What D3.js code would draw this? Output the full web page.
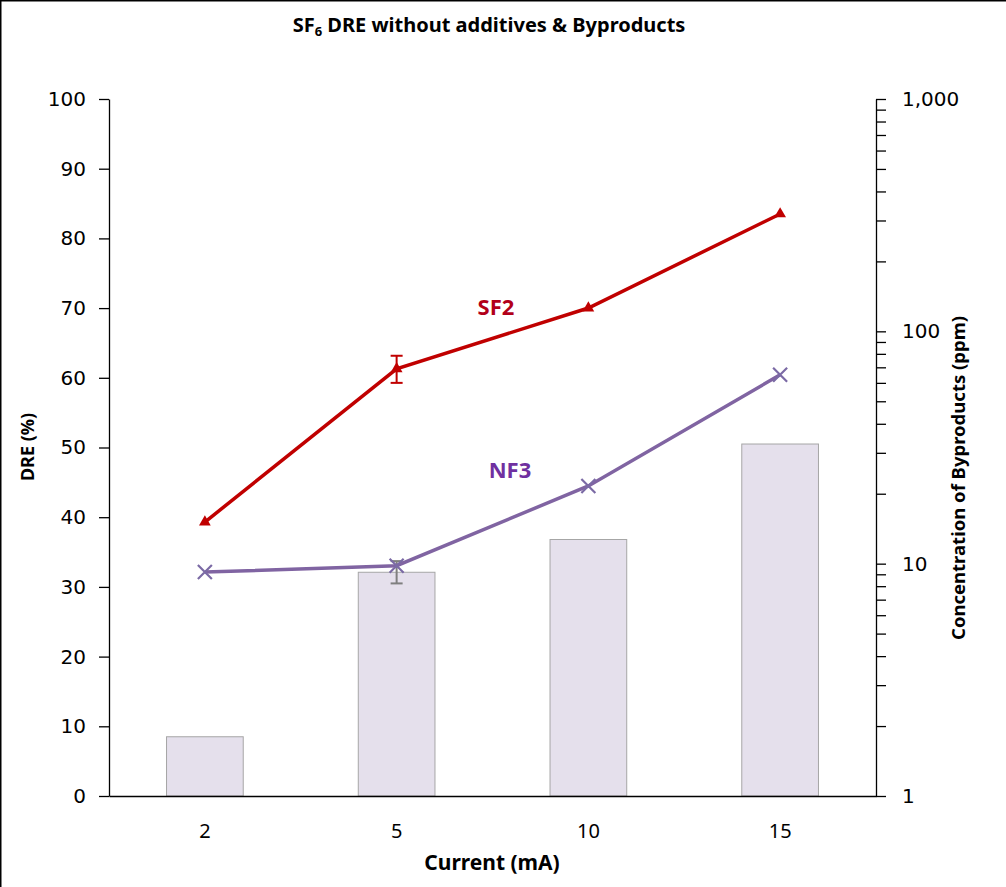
<!DOCTYPE html>
<html>
<head>
<meta charset="utf-8">
<script src="https://cdn.jsdelivr.net/npm/d3@7"></script>
<style>
  body { margin: 0; background: #fff; }
  svg { display: block; }
</style>
</head>
<body>
<div id="chart"></div>
<script>
var categories = ["2", "5", "10", "15"];
var dreValues = [8.5, 32.1, 36.8, 50.5];      // bars, left axis (%)
var dreErrors = [0, 1.6, 0, 0];
var sf2Values = [15.1, 69, 126, 320];         // ppm, right log axis
var sf2Errors = [[0, 0], [60, 78.5], [0, 0], [0, 0]];
var nf3Values = [9.2, 9.8, 21.6, 65];
var leftTicks = [0, 10, 20, 30, 40, 50, 60, 70, 80, 90, 100];
var rightTicks = [1, 10, 100, 1000];

var W = 1006, H = 887;
var margin = { left: 109, right: 130, top: 99, bottom: 91 };

var svg = d3.select("#chart").append("svg")
    .attr("width", W)
    .attr("height", H);

// frame (only top and left edges are visible in the picture)
svg.append("rect")
    .attr("x", 0.75).attr("y", 0.75)
    .attr("width", W + 10).attr("height", H + 10)
    .attr("fill", "none")
    .attr("stroke", "#000")
    .attr("stroke-width", 1.5);

var x = d3.scaleBand()
    .domain(categories)
    .range([margin.left, W - margin.right])
    .paddingInner(0.6)
    .paddingOuter(0.3);

var yL = d3.scaleLinear()
    .domain([0, 100])
    .range([H - margin.bottom, margin.top]);

var yR = d3.scaleLog()
    .domain([1, 1000])
    .range([H - margin.bottom, margin.top]);

var xMid = function (c) { return x(c) + x.bandwidth() / 2; };

// bars
svg.selectAll("rect.bar")
    .data(dreValues)
    .enter().append("rect")
    .attr("class", "bar")
    .attr("x", function (d, i) { return x(categories[i]); })
    .attr("y", function (d) { return yL(d); })
    .attr("width", x.bandwidth())
    .attr("height", function (d) { return yL(0) - yL(d); })
    .attr("fill", "#e5e0ec")
    .attr("stroke", "#a6a6a6")
    .attr("stroke-width", 1);

// bar error bars
dreErrors.forEach(function (e, i) {
    if (!e) return;
    var cx = xMid(categories[i]);
    var g = svg.append("g").attr("stroke", "#7f7f7f").attr("stroke-width", 2);
    g.append("line").attr("x1", cx).attr("x2", cx)
        .attr("y1", yL(dreValues[i] + e)).attr("y2", yL(dreValues[i] - e));
    [dreValues[i] + e, dreValues[i] - e].forEach(function (v) {
        g.append("line").attr("x1", cx - 6).attr("x2", cx + 6)
            .attr("y1", yL(v)).attr("y2", yL(v));
    });
});

// axes
var leftAxis = svg.append("g")
    .attr("transform", "translate(" + margin.left + ",0)")
    .call(d3.axisLeft(yL).tickValues(leftTicks).tickSize(10).tickSizeOuter(0).tickPadding(13));

var minorTicks = [];
[1, 10, 100].forEach(function (d) {
    for (var k = 2; k <= 9; k++) minorTicks.push(d * k);
});
var rightX = W - margin.right;
svg.append("g")
    .attr("transform", "translate(" + rightX + ",0)")
    .call(d3.axisRight(yR).tickValues(minorTicks).tickSize(10).tickFormat(""))
    .call(function (g) { g.select(".domain").remove(); });
var rightAxis = svg.append("g")
    .attr("transform", "translate(" + rightX + ",0)")
    .call(d3.axisRight(yR).tickValues(rightTicks).tickSize(10).tickSizeOuter(0).tickPadding(16)
        .tickFormat(d3.format(",")));

var bottomAxis = svg.append("g")
    .attr("transform", "translate(0," + yL(0) + ")")
    .call(d3.axisBottom(x).tickSize(0).tickPadding(28));

[leftAxis, rightAxis].forEach(function (g) {
    g.selectAll("text")
        .attr("font-family", "'DejaVu Sans', sans-serif")
        .attr("font-size", 20)
        .attr("fill", "#000");
});
bottomAxis.selectAll("text")
    .attr("font-family", "'Noto Sans', sans-serif")
    .attr("font-size", 20)
    .attr("fill", "#000");
svg.selectAll(".domain, .tick line").attr("stroke", "#000").attr("stroke-width", 1.3);

// lines
var line = d3.line()
    .x(function (d, i) { return xMid(categories[i]); })
    .y(function (d) { return yR(d); });

svg.append("path")
    .datum(nf3Values)
    .attr("d", line)
    .attr("fill", "none")
    .attr("stroke", "#8064a2")
    .attr("stroke-width", 3.5);

svg.selectAll("path.nf3-mark")
    .data(nf3Values)
    .enter().append("path")
    .attr("class", "nf3-mark")
    .attr("transform", function (d, i) {
        return "translate(" + xMid(categories[i]) + "," + yR(d) + ")";
    })
    .attr("d", "M-7,-7L7,7M-7,7L7,-7")
    .attr("stroke", "#7b6aa5")
    .attr("stroke-width", 2.2);

svg.append("path")
    .datum(sf2Values)
    .attr("d", line)
    .attr("fill", "none")
    .attr("stroke", "#c00000")
    .attr("stroke-width", 3.5);

svg.selectAll("path.sf2-mark")
    .data(sf2Values)
    .enter().append("path")
    .attr("class", "sf2-mark")
    .attr("transform", function (d, i) {
        return "translate(" + xMid(categories[i]) + "," + yR(d) + ")";
    })
    .attr("d", d3.symbol().type(d3.symbolTriangle).size(60))
    .attr("fill", "#c00000");

sf2Errors.forEach(function (e, i) {
    if (!e[0]) return;
    var cx = xMid(categories[i]);
    var g = svg.append("g").attr("stroke", "#c00000").attr("stroke-width", 2);
    g.append("line").attr("x1", cx).attr("x2", cx)
        .attr("y1", yR(e[0])).attr("y2", yR(e[1]));
    e.forEach(function (v) {
        g.append("line").attr("x1", cx - 6).attr("x2", cx + 6)
            .attr("y1", yR(v)).attr("y2", yR(v));
    });
});

// series labels
svg.append("text")
    .attr("x", 496).attr("y", 315)
    .attr("text-anchor", "middle")
    .attr("font-family", "'Noto Sans', sans-serif")
    .attr("font-weight", "bold")
    .attr("font-size", 22)
    .attr("fill", "#b2001a")
    .text("SF2");
svg.append("text")
    .attr("x", 510).attr("y", 478)
    .attr("text-anchor", "middle")
    .attr("font-family", "'Noto Sans', sans-serif")
    .attr("font-weight", "bold")
    .attr("font-size", 22)
    .attr("fill", "#7030a0")
    .text("NF3");

// title
var title = svg.append("text")
    .attr("x", 489).attr("y", 32)
    .attr("text-anchor", "middle")
    .attr("font-family", "'Noto Sans', sans-serif")
    .attr("font-weight", "bold")
    .attr("font-size", 20)
    .attr("fill", "#000");
title.append("tspan").text("SF");
title.append("tspan").attr("font-size", 13).attr("dy", 4).text("6");
title.append("tspan").attr("dy", -4).text(" DRE without additives & Byproducts");

// axis titles
svg.append("text")
    .attr("transform", "translate(34,447) rotate(-90)")
    .attr("text-anchor", "middle")
    .attr("font-family", "'Noto Sans', sans-serif")
    .attr("font-weight", "bold")
    .attr("font-size", 18)
    .text("DRE (%)");

svg.append("text")
    .attr("transform", "translate(965,478) rotate(-90)")
    .attr("text-anchor", "middle")
    .attr("font-family", "'Noto Sans', sans-serif")
    .attr("font-weight", "bold")
    .attr("font-size", 18.5)
    .text("Concentration of Byproducts (ppm)");

svg.append("text")
    .attr("x", 492).attr("y", 870)
    .attr("text-anchor", "middle")
    .attr("font-family", "'Noto Sans', sans-serif")
    .attr("font-weight", "bold")
    .attr("font-size", 21)
    .text("Current (mA)");
</script>
</body>
</html>
